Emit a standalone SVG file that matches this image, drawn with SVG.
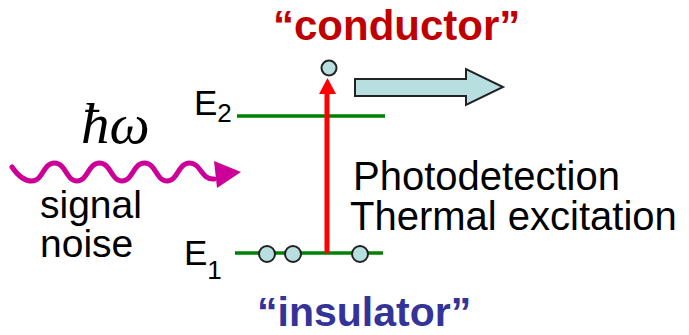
<svg xmlns="http://www.w3.org/2000/svg" width="689" height="335" viewBox="0 0 689 335">
<style>
.t{font-family:"Liberation Sans",Arial,sans-serif;font-size:40px;fill:#000}
.b{font-family:"Liberation Sans",Arial,sans-serif;font-size:42px;font-weight:bold}
.lvl{stroke:#008000;stroke-width:3.5;fill:none}
.e{fill:#b8dfe0;stroke:#222;stroke-width:2}
</style>
<rect width="689" height="335" fill="#fff"/>
<g id="photon">
<path d="M12,167 C18,176 25,181 32,181 C43,181 43,163 54.5,163 S66,181 77,181 S88,163 99.5,163 S111,181 122,181 S133,163 144.5,163 S156,181 167,181 S178,163 189.5,163 S201,180 214,179" fill="none" stroke="#cc0099" stroke-width="5" stroke-linecap="round"/>
<polygon points="214,161 241,172 217,188" fill="#cc0099"/>
<text x="81" y="143" font-family="'Liberation Serif','Times New Roman',serif" font-style="italic" font-size="57">ħω</text>
<text class="t" x="40" y="218" style="font-size:39px">signal</text>
<text class="t" x="40" y="257" style="font-size:39px">noise</text>
</g>
<g id="E2">
<text class="t" x="194" y="115" style="font-size:35px">E<tspan style="font-size:26px" dy="7">2</tspan></text>
<line class="lvl" x1="237" y1="116" x2="385" y2="116"/>
</g>
<g id="E1">
<text class="t" x="184" y="265" style="font-size:35px">E<tspan style="font-size:26px" dy="14">1</tspan></text>
<line class="lvl" x1="235" y1="253" x2="383" y2="253"/>
</g>
<g id="connectors">
<line x1="327" y1="253" x2="327" y2="92" stroke="#ff0000" stroke-width="5"/>
<polygon points="319,94 327.5,78 336,94" fill="#ff0000"/>
</g>
<g id="electrons">
<circle class="e" cx="267" cy="254" r="8"/>
<circle class="e" cx="293" cy="254" r="8"/>
<circle class="e" cx="360" cy="254" r="8"/>
<circle class="e" cx="329" cy="68" r="7.5"/>
</g>
<g id="flow">
<polygon class="e" points="355,79 466,79 466,69 503,87 466,105 466,96 355,96"/>
</g>
<g id="labels">
<text class="b" x="273" y="40" fill="#c00000">“conductor”</text>
<text class="b" x="257" y="326" fill="#333399" style="font-size:41px">“insulator”</text>
<text class="t" x="353" y="190">Photodetection</text>
<text class="t" x="350" y="230">Thermal excitation</text>
</g>
</svg>
